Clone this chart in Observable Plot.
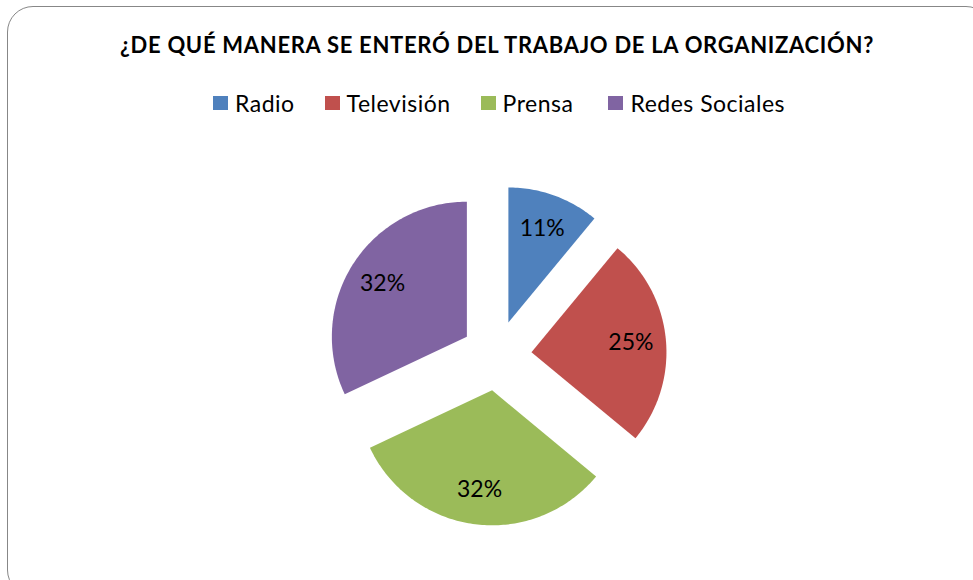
<!DOCTYPE html>
<html>
<head>
<meta charset="utf-8">
<script src="https://cdn.jsdelivr.net/npm/d3@7"></script>
<script src="https://cdn.jsdelivr.net/npm/@observablehq/plot@0.6"></script>
<style>
  html, body { margin: 0; padding: 0; background: #fff; }
  body { width: 973px; height: 580px; overflow: hidden; position: relative; font-family: Lato, "Open Sans", sans-serif; }
  #frame { position: absolute; left: 7px; top: 6px; width: 985px; height: 590px; border: 1.5px solid #878787; border-radius: 26px; box-sizing: border-box; }
  #title { position: absolute; left: 0; top: 31px; width: 994px; text-align: center; font-weight: bold; font-size: 22px; letter-spacing: 0.7px; color: #000; white-space: nowrap; line-height: 28px; }
  #legend { position: absolute; left: 213px; top: 89px; display: flex; align-items: center; font-size: 23px; letter-spacing: 0.5px; color: #000; line-height: 28px; white-space: nowrap; }
  .item { display: flex; align-items: center; }
  .sw { width: 15px; height: 14px; margin-right: 7px; }
  #chart { position: absolute; left: 0; top: 130px; }
</style>
</head>
<body>
<div id="frame"></div>
<div id="title"></div>
<div id="legend"></div>
<div id="chart"></div>
<script>
const titleText = "¿DE QUÉ MANERA SE ENTERÓ DEL TRABAJO DE LA ORGANIZACIÓN?";
const categories = ["Radio", "Televisión", "Prensa", "Redes Sociales"];
const values = [11, 25, 32, 32];
const labels = ["11%", "25%", "32%", "32%"];
const colors = ["#4F81BD", "#C0504D", "#9BBB59", "#8064A2"];

document.getElementById("title").textContent = titleText;

const legendGaps = [30, 30, 35];
const legend = document.getElementById("legend");
categories.forEach((c, i) => {
  const it = document.createElement("div");
  it.className = "item";
  if (i > 0) it.style.marginLeft = legendGaps[i - 1] + "px";
  const sw = document.createElement("div");
  sw.className = "sw";
  sw.style.background = colors[i];
  const tx = document.createElement("span");
  tx.textContent = c;
  it.appendChild(sw);
  it.appendChild(tx);
  legend.appendChild(it);
});

// Pie geometry (in radius units)
const W = 973, H = 450, R = 135, CX = 496, CY = 225, explode = 0.26;
const arcs = d3.pie().sort(null).startAngle(0).endAngle(2 * Math.PI)(values);
const polys = [];
const labelPts = [];
arcs.forEach((a, i) => {
  const mid = (a.startAngle + a.endAngle) / 2;
  const ox = explode * Math.sin(mid), oy = explode * Math.cos(mid);
  polys.push({k: categories[i], x: ox, y: oy});
  const steps = Math.max(2, Math.ceil((a.endAngle - a.startAngle) / (Math.PI / 180)));
  for (let s = 0; s <= steps; s++) {
    const t = a.startAngle + (a.endAngle - a.startAngle) * s / steps;
    polys.push({k: categories[i], x: ox + Math.sin(t), y: oy + Math.cos(t)});
  }
  polys.push({k: categories[i], x: ox, y: oy});
  labelPts.push({k: categories[i], label: labels[i], x: ox + 0.74 * Math.sin(mid), y: oy + 0.74 * Math.cos(mid)});
});

const plot = Plot.plot({
  width: W,
  height: H,
  margin: 0,
  x: {domain: [-CX / R, (W - CX) / R], axis: null},
  y: {domain: [-(H - CY) / R, CY / R], axis: null},
  color: {domain: categories, range: colors},
  style: {background: "transparent", overflow: "visible"},
  marks: [
    Plot.line(polys, {x: "x", y: "y", z: "k", fill: "k", stroke: "none", curve: "linear"}),
    Plot.text(labelPts, {x: "x", y: "y", text: "label", fill: "#000", fontSize: 23, fontFamily: "Lato, 'Open Sans', sans-serif"})
  ]
});
document.getElementById("chart").appendChild(plot);
</script>
</body>
</html>
